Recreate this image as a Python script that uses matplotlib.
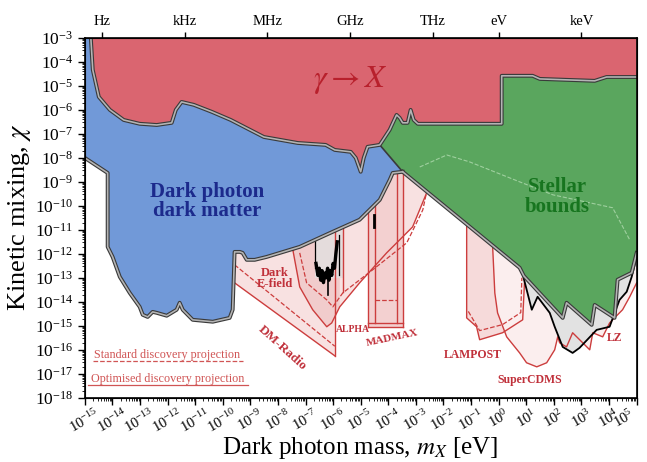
import numpy as np
import matplotlib.pyplot as plt
from matplotlib.ticker import LogLocator, NullFormatter, FixedLocator

plt.rcParams['font.family'] = ['Liberation Serif', 'DejaVu Serif']
plt.rcParams['mathtext.fontset'] = 'stix'

# all values are log10(mass / eV) and log10(chi)
# gamma -> X bound (lower edge of the red region)
red_m = [-14.78, -14.71, -14.49, -14.09, -13.59, -13.01, -12.39, -11.85, -11.70, -11.49,
         -11.05, -10.40, -9.71, -8.51, -7.28, -6.27, -5.94, -5.36, -5.18, -5.00, -4.89,
         -4.75, -4.31, -3.95, -3.70, -3.59, -3.48, -3.30, -3.19, -3.08, -2.93, 0.11, 0.11,
         1.23, 1.49, 3.48, 3.91, 5.0]
red_c = [-3.0, -4.33, -5.46, -6.00, -6.42, -6.58, -6.63, -6.54, -6.00, -5.67,
         -5.79, -6.08, -6.42, -7.13, -7.38, -7.46, -7.67, -7.75, -8.00, -8.58, -8.00,
         -7.54, -7.46, -6.83, -6.21, -6.33, -6.54, -6.54, -6.00, -6.42, -6.58, -6.58, -4.58,
         -4.58, -4.71, -4.79, -4.63, -4.63]

# dark photon dark matter (blue) outer edge
blue_m = [-15.0, -14.17, -14.17, -13.99, -13.73, -13.37, -13.01, -12.90, -12.72, -12.54,
          -12.39, -12.03, -11.67, -11.56, -11.45, -11.09, -10.36, -9.75, -9.64, -9.57,
          -9.38, -9.28, -9.13, -8.84, -8.41, -7.21, -6.01, -5.04, -4.31, -3.95, -3.84, -3.48]
blue_c = [-8.00, -8.63, -11.71, -12.13, -12.96, -13.63, -14.21, -14.54, -14.63, -14.42,
          -14.46, -14.58, -14.33, -14.04, -14.33, -14.75, -14.83, -14.67, -14.33, -11.92,
          -11.92, -11.96, -12.25, -12.25, -12.13, -11.71, -11.08, -10.58, -9.75, -8.92, -8.63, -8.58]

# stellar bounds (green) lower edge
green_m = [-4.31, -3.48, 0.76, 0.91, 2.32, 2.46, 3.37, 3.48, 4.20, 4.31, 4.82, 5.0]
green_c = [-7.46, -8.58, -12.58, -12.92, -14.67, -14.04, -14.96, -14.13, -14.67, -13.08, -12.79, -11.96]
green_dash_m = [-2.86, -1.88, -1.05, 0.76, 1.96, 4.13, 4.75]
green_dash_c = [-8.38, -7.88, -8.17, -9.00, -9.54, -10.08, -11.42]

# existing direct detection limits (grey)
dd_m = [0.83, 1.20, 1.41, 1.85, 2.03, 2.32, 2.68, 2.93, 3.55, 4.02, 4.38, 4.64, 4.82, 5.0]
dd_c = [-12.67, -14.33, -13.79, -14.46, -15.04, -15.88, -16.13, -15.92, -15.17, -15.04,
        -13.92, -13.58, -12.96, -12.13]

# haloscope limits (black)
halo_m = [-6.62, -6.55, -6.50, -6.45, -6.40, -6.35, -6.30, -6.25, -6.20, -6.15,
          -6.10, -6.05, -6.00, -5.95, -5.90, -5.85]
halo_c = [-12.4, -12.9, -12.6, -13.1, -12.7, -13.2, -12.8, -13.0, -12.6, -13.1,
          -12.7, -12.9, -12.4, -12.6, -12.0, -11.5]

# projections
dmradio_m = [-9.57, -5.94]
dmradio_opt = [-13.21, -16.25]
dmradio_std = [-12.46, -15.85]

efield_m = [-7.46, -7.21, -6.74, -6.23, -6.05, -5.76]
efield_c = [-11.83, -13.38, -14.33, -15.04, -14.88, -14.21]
alpha_m = [-6.05, -5.76, -5.04, -4.06, -3.12, -2.61, -2.57]
alpha_c = [-14.88, -14.21, -13.21, -11.96, -10.88, -9.46, -9.0]
alpha_std_m = [-7.21, -6.96, -6.23, -6.01, -5.65, -4.57, -3.33, -2.75, -2.61]
alpha_std_c = [-11.96, -13.21, -13.92, -14.21, -13.63, -12.67, -11.54, -10.17, -9.42]

madmax_m = [-4.75, -3.48]
madmax_inner_m = [-4.49, -3.70]
madmax_opt, madmax_std = -14.88, -13.92
madmax_bottom = -15.04

lampost_m = [-1.16, -1.16, -0.80, -0.69, 0.14, 0.87, 0.94, 0.94]
lampost_c = [-10.77, -14.67, -15.04, -15.58, -15.29, -14.75, -13.08, -12.79]
lampost_std_m = [-1.10, -0.69, 0.14, 0.80, 0.84]
lampost_std_c = [-14.40, -15.20, -14.95, -14.45, -13.0]

cdms_m = [-0.22, -0.14, -0.04, 0.29, 0.76, 1.01, 1.38, 1.74, 2.03, 2.14, 2.21, 2.46, 2.68,
          3.30, 3.41, 3.77, 4.02, 4.13, 4.49, 4.75, 5.0]
cdms_c = [-11.67, -13.63, -14.46, -15.46, -16.13, -16.54, -16.71, -16.54, -16.00, -15.46,
          -15.71, -15.88, -15.29, -16.00, -15.29, -15.46, -14.88, -14.75, -14.33, -13.79, -13.21]

freq_names = ['Hz', 'kHz', 'MHz', 'GHz', 'THz', 'eV', 'keV']
freq_pos = [4.1357e-15, 4.1357e-12, 4.1357e-9, 4.1357e-6, 4.1357e-3, 1.0, 1e3]


def P(m, c):
    return 10.0 ** np.asarray(m, float), 10.0 ** np.asarray(c, float)


def poly(m, c, **kw):
    x, y = P(m, c)
    ax.fill(x, y, lw=0, **kw)


def line(m, c, **kw):
    x, y = P(m, c)
    ax.plot(x, y, **kw)


def edge(m, c, lw=2.8, z=8):
    x, y = P(m, c)
    ax.plot(x, y, color='#3a3a3a', lw=lw, zorder=z, solid_joinstyle='round')
    ax.plot(x, y, color='#b4b4b4', lw=lw * 0.42, zorder=z + 0.1, solid_joinstyle='round')


fig = plt.figure(figsize=(6.47, 4.62), dpi=100)
ax = fig.add_axes([0.131, 0.139, 0.853, 0.779])
ax.set_xscale('log')
ax.set_yscale('log')
ax.set_xlim(1e-15, 1e5)
ax.set_ylim(1e-18, 1e-3)

pk_line = '#cc3d3d'
pk_fill = '#f8e1e1'

# DM-Radio
poly([dmradio_m[0], dmradio_m[0], dmradio_m[1], dmradio_m[1]],
     [-3, dmradio_opt[0], dmradio_opt[1], -3], color=pk_fill, zorder=1)
line(dmradio_m, dmradio_opt, color=pk_line, lw=1.0, zorder=2)
line(dmradio_m, dmradio_std, color=pk_line, lw=0.9, ls='--', zorder=2)
line([dmradio_m[1], dmradio_m[1]], [dmradio_opt[1], -3], color=pk_line, lw=1.0, zorder=2)

# ALPHA / Dark E-field
poly([alpha_m[0]] + alpha_m + [alpha_m[-1]], [-3] + alpha_c + [-3], color=pk_fill, zorder=1)
poly([efield_m[0]] + efield_m + [efield_m[-1]], [-3] + efield_c + [-3], color='#f1cccc', zorder=1.2)
line(efield_m + alpha_m[2:], efield_c + alpha_c[2:], color=pk_line, lw=1.0, zorder=2)
line([efield_m[0], efield_m[0]], [efield_c[0], -3], color=pk_line, lw=1.0, zorder=2)
line(alpha_std_m, alpha_std_c, color=pk_line, lw=0.9, ls='--', zorder=2)
line([-5.65, -5.65], [-13.6, -3], color=pk_line, lw=1.0, zorder=2)

# MADMAX
poly([madmax_m[0], madmax_m[0], madmax_m[1], madmax_m[1]],
     [-3, madmax_bottom, madmax_bottom, -3], color='#f3d0d0', zorder=1.3)
for mm in madmax_m + madmax_inner_m:
    line([mm, mm], [madmax_bottom if mm in madmax_m else madmax_opt, -3], color=pk_line, lw=1.0, zorder=2)
line(madmax_m, [madmax_bottom, madmax_bottom], color=pk_line, lw=1.0, zorder=2)
line(madmax_m, [madmax_opt, madmax_opt], color=pk_line, lw=1.0, zorder=2)
line(madmax_inner_m, [madmax_std, madmax_std], color=pk_line, lw=0.9, ls='--', zorder=2)

# LAMPOST
poly(lampost_m + [lampost_m[-1], lampost_m[0]], lampost_c + [-3, -3], color='#f6dada', zorder=1)
line(lampost_m, lampost_c, color=pk_line, lw=1.0, zorder=2)
line(lampost_std_m, lampost_std_c, color=pk_line, lw=0.9, ls='--', zorder=2)

# SuperCDMS / LZ
poly(cdms_m + [cdms_m[-1], cdms_m[0]], cdms_c + [-3, -3], color='#fbeeee', zorder=1)
line(cdms_m, cdms_c, color=pk_line, lw=1.0, zorder=3.5)

# haloscopes
poly([-6.67, -6.67, -5.65, -5.65], [-3, -13.0, -13.0, -3], color='#e4dcdc', zorder=1.5)
line(halo_m, halo_c, color='black', lw=2.4, zorder=4)
line([-6.65, -6.65], [-11.3, -12.6], color='black', lw=0.9, zorder=4)
line([-6.2, -6.2], [-12.6, -13.7], color='black', lw=1.2, zorder=4)
line([-5.8, -5.8], [-11.2, -12.9], color='black', lw=0.9, zorder=4)
line([-4.53, -4.53], [-10.4, -10.9], color='black', lw=2.0, zorder=4)

# existing direct detection
poly(dd_m + [dd_m[-1], dd_m[0]], dd_c + [-3, -3], color='#e2e2e2', zorder=3)
line(dd_m, dd_c, color='black', lw=1.3, zorder=4)

# dark photon dark matter
poly([-15.0] + blue_m + [-4.31, -4.31], [-3.0] + blue_c + [-7.46, -3.0], color='#7199d8', zorder=5)

# stellar bounds
poly(green_m + [5.0, -4.31], green_c + [-3.0, -3.0], color='#5aa65e', zorder=6)
line(green_dash_m, green_dash_c, color='#9fd09f', lw=0.8, ls='--', zorder=6.5)

# gamma -> X
poly(red_m + [5.0], red_c + [-3.0], color='#da6570', zorder=7)

edge(red_m, red_c)
edge(blue_m, blue_c)
edge(green_m[1:], green_c[1:])
line(green_m[:2], green_c[:2], color='#3a3a3a', lw=1.2, zorder=8)

# labels
lab = dict(ha='center', va='center', zorder=10)
ax.text(10**-5.36, 10**-4.75, r'$\gamma \rightarrow X$', color='#b8202c', fontsize=23, **lab)
ax.text(10**-10.58, 10**-9.83, 'Dark photon\ndark matter', color='#1c2a8c', fontsize=15,
        fontweight='bold', linespacing=0.95, **lab)
ax.text(10**2.14, 10**-9.63, 'Stellar\nbounds', color='#17751f', fontsize=15,
        fontweight='bold', linespacing=0.95, **lab)
rc = '#c0303a'
ax.text(10**-8.12, 10**-13.04, 'Dark\nE-field', color=rc, fontsize=9, fontweight='bold',
        linespacing=0.9, **lab)
ax.text(10**-7.86, 10**-15.92, 'DM-Radio', color=rc, fontsize=9.5, fontweight='bold', rotation=-42, **lab)
ax.text(10**-5.29, 10**-15.17, 'ALPHA', color=rc, fontsize=7, fontweight='bold', **lab)
ax.text(10**-3.84, 10**-15.5, 'MADMAX', color=rc, fontsize=8, fontweight='bold', rotation=12, **lab)
ax.text(10**-0.94, 10**-16.21, 'LAMPOST', color=rc, fontsize=8.5, fontweight='bold', **lab)
ax.text(10**1.12, 10**-17.25, 'SuperCDMS', color=rc, fontsize=8.5, fontweight='bold', **lab)
ax.text(10**4.2, 10**-15.5, 'LZ', color=rc, fontsize=8.5, fontweight='bold', **lab)

# projection key
kc = '#d05454'
ax.text(0.150, 0.119, 'Standard discovery projection', transform=ax.transAxes, color=kc,
        fontsize=8.7, ha='center', va='center', zorder=10)
ax.plot([0.015, 0.287], [0.103, 0.103], transform=ax.transAxes, color=kc, lw=0.9, ls='--', zorder=10)
ax.text(0.150, 0.053, 'Optimised discovery projection', transform=ax.transAxes, color=kc,
        fontsize=8.7, ha='center', va='center', zorder=10)
ax.plot([0.006, 0.296], [0.036, 0.036], transform=ax.transAxes, color=kc, lw=0.9, zorder=10)

# axes
ax.xaxis.set_major_locator(LogLocator(base=10, numticks=40))
ax.xaxis.set_minor_locator(LogLocator(base=10, subs=np.arange(2, 10), numticks=40))
ax.xaxis.set_minor_formatter(NullFormatter())
ax.yaxis.set_major_locator(LogLocator(base=10, numticks=40))
ax.yaxis.set_minor_locator(LogLocator(base=10, subs=np.arange(2, 10), numticks=40))
ax.yaxis.set_minor_formatter(NullFormatter())
ax.tick_params(which='both', direction='out', top=True, right=False)
ax.tick_params(which='major', length=5, width=1.0, labelsize=12.5)
ax.tick_params(which='minor', length=2.5, width=0.6)
ax.tick_params(axis='x', which='major', labelsize=10.5, pad=1)
xlocs = ax.xaxis.get_majorticklocs()
for loc, t in zip(xlocs, ax.get_xticklabels()):
    t.set_rotation(30)
    t.set_horizontalalignment('right' if loc > 5e4 else 'center')
for s in ax.spines.values():
    s.set_linewidth(1.2)
    s.set_zorder(12)

ax.set_xlabel(r'Dark photon mass, $m_X$ [eV]', fontsize=18, labelpad=-1)
ax.set_ylabel(r'Kinetic mixing, $\chi$', fontsize=19, labelpad=1)

top = ax.twiny()
top.set_xscale('log')
top.set_xlim(ax.get_xlim())
top.xaxis.set_major_locator(FixedLocator(freq_pos))
top.xaxis.set_minor_locator(FixedLocator([]))
top.set_xticklabels(freq_names, fontsize=10.5)
top.tick_params(axis='x', length=4, width=1.0, pad=3)

fig.savefig('out.png', dpi=100)
